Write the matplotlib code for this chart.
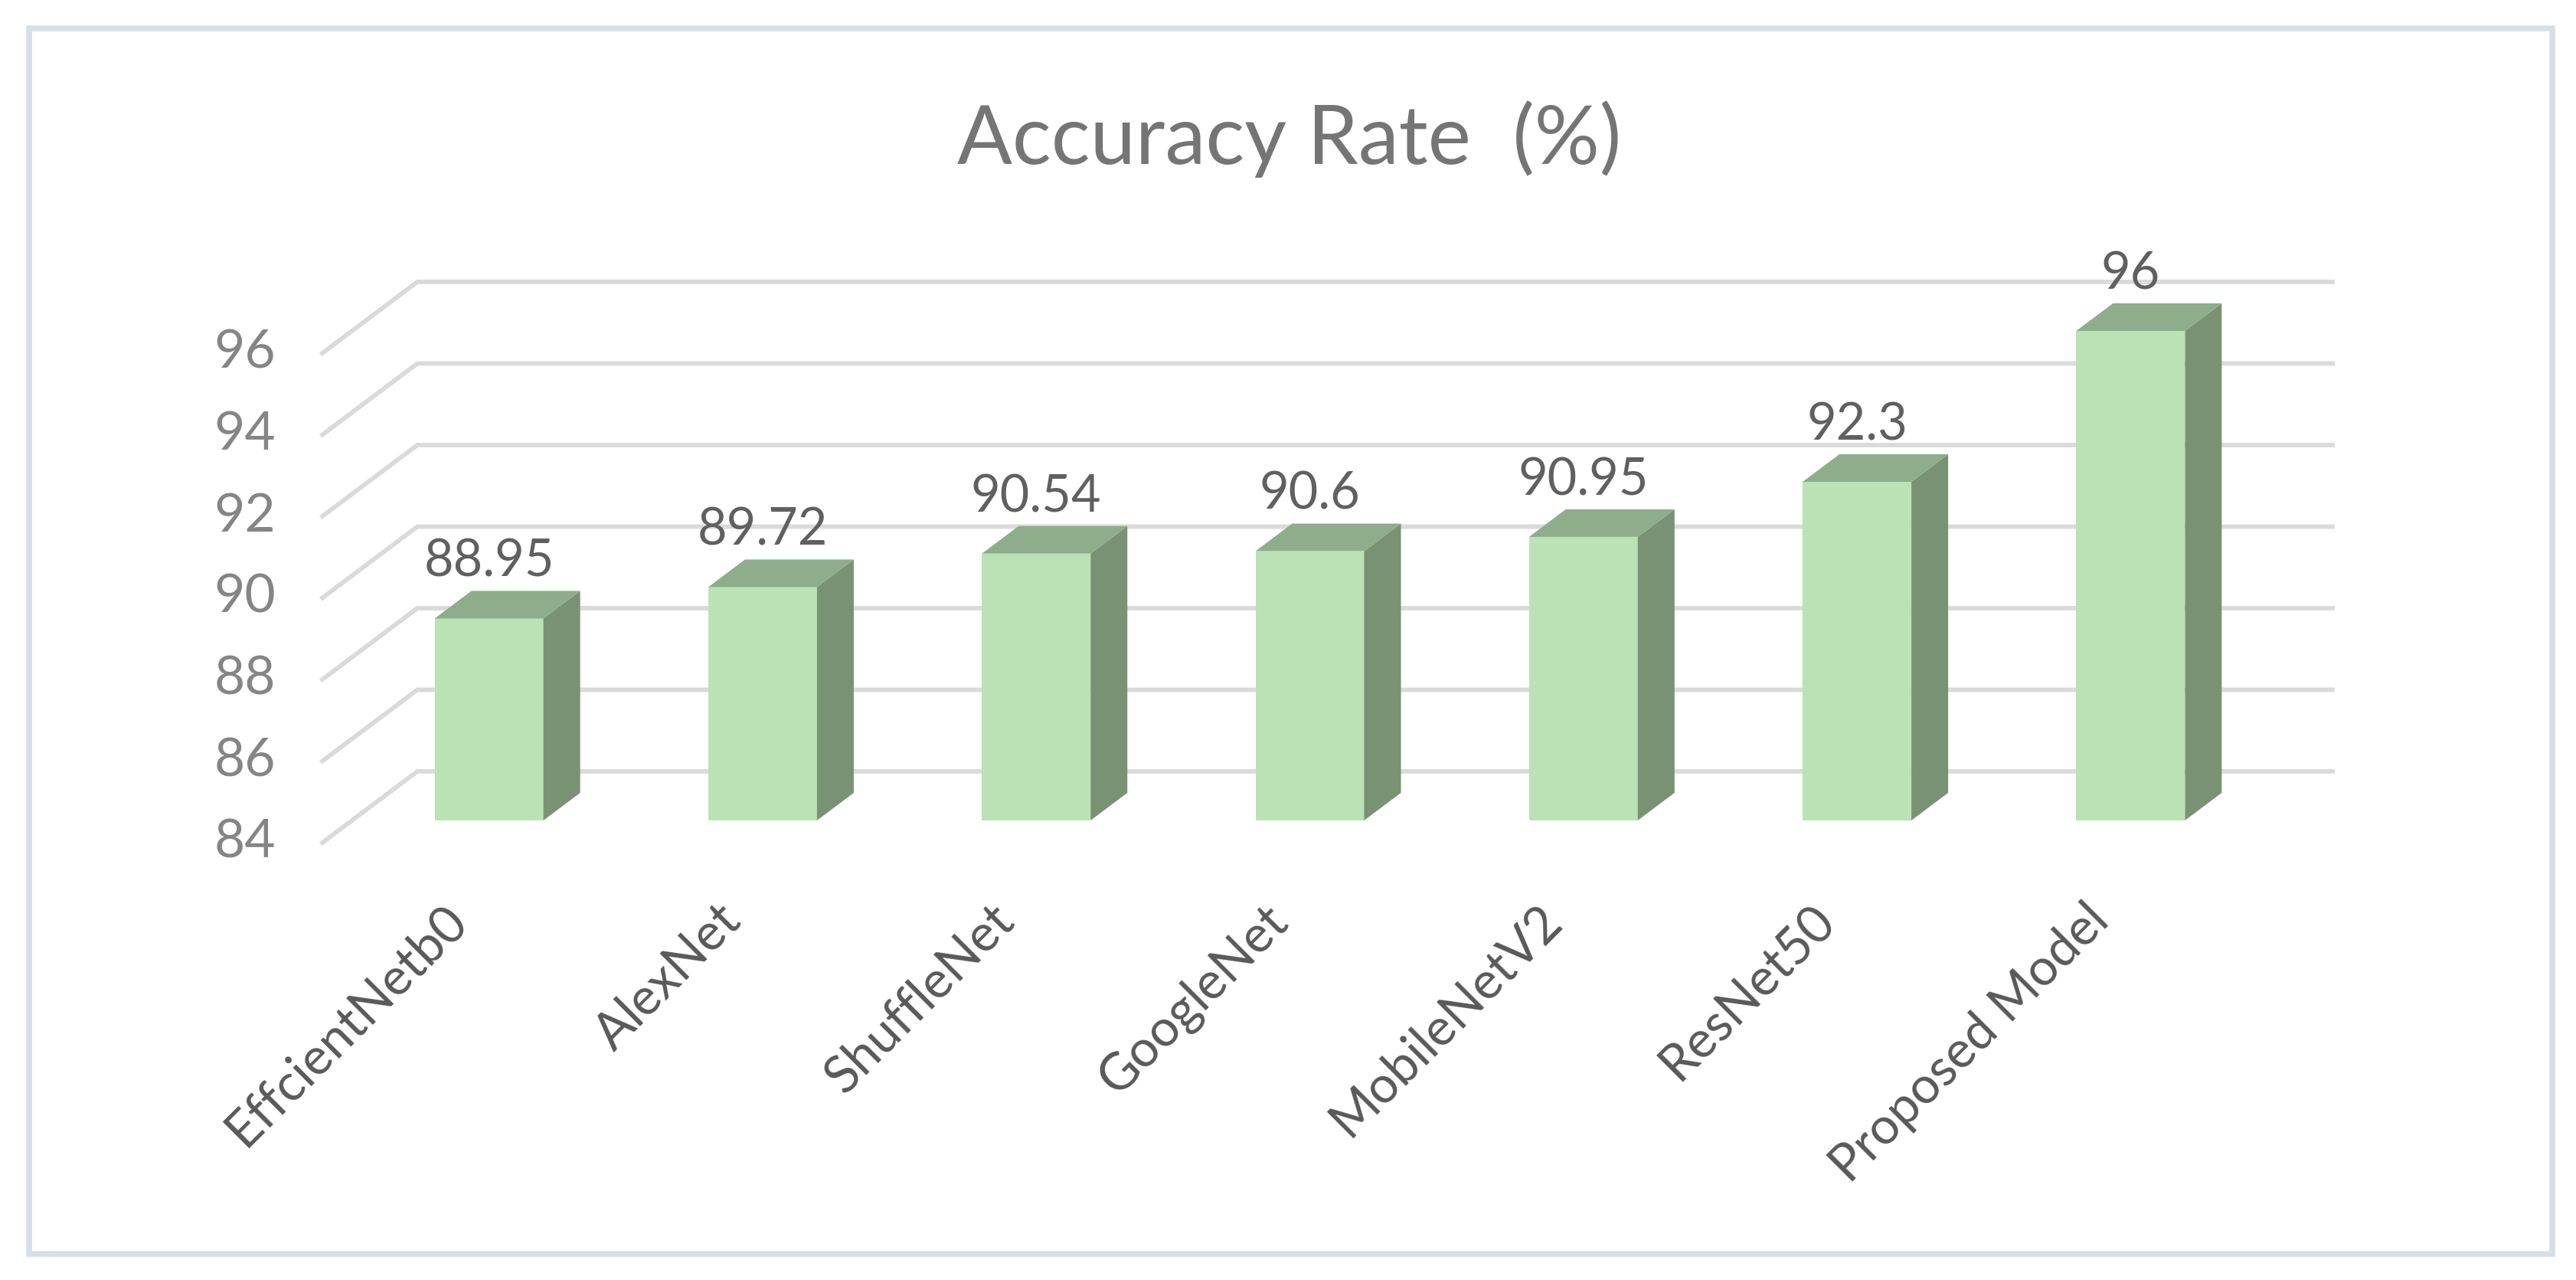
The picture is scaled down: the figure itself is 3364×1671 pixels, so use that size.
import matplotlib
matplotlib.use("Agg")
import matplotlib.pyplot as plt
import matplotlib.patches as patches
from matplotlib.transforms import ScaledTranslation

categories = ["EffcientNetb0", "AlexNet", "ShuffleNet", "GoogleNet", "MobileNetV2", "ResNet50", "Proposed Model"]
accuracy = [88.95, 89.72, 90.54, 90.6, 90.95, 92.3, 96]
y_ticks = [84, 86, 88, 90, 92, 94, 96]

W, H = 3364, 1671
BASE = 84

# axes plane is the front edge of the 3d floor, in pixels
left, right, bottom, top = 421, 2922, 1100, 461
unit_x = (right - left) / 7
unit_y = (bottom - top) / 12

# depth offsets turned into data units
wall_dx, wall_dy = 124 / unit_x, 93 / unit_y
front_dx, front_dy = 39 / unit_x, 29 / unit_y
bar_dx, bar_dy = 48 / unit_x, 36 / unit_y
bar_w = 142 / unit_x

FRONT = "#BAE2B4"
TOP = "#8DAD8B"
SIDE = "#7A9274"
GRID = "#DADADA"

plt.rcParams["font.family"] = ["Lato", "DejaVu Sans"]

fig = plt.figure(figsize=(W / 100, H / 100), dpi=100, facecolor="white")
ax = fig.add_axes([left / W, 1 - bottom / H, (right - left) / W, (bottom - top) / H])
ax.patch.set_visible(False)
for s in ax.spines.values():
    s.set_visible(False)

# frame round the whole chart
frame = patches.Rectangle((38 / W, 1 - 1637 / H), (3332.5 - 38) / W, (1637 - 36.5) / H,
                          transform=fig.transFigure, fill=False, edgecolor="#D6DEE8", linewidth=5.4)
fig.add_artist(frame)

# wall gridlines with the slanted part on the left
for v in y_ticks:
    ax.plot([-0.5, -0.5 + wall_dx, 6.5 + wall_dx], [v, v + wall_dy, v + wall_dy],
            color=GRID, linewidth=4.2, clip_on=False, zorder=1, solid_joinstyle="miter")

for i, v in enumerate(accuracy):
    x0 = i - bar_w / 2 + front_dx
    x1 = i + bar_w / 2 + front_dx
    y0 = BASE + front_dy
    y1 = v + front_dy
    ax.add_patch(patches.Rectangle((x0, y0), x1 - x0, y1 - y0, facecolor=FRONT, edgecolor="none",
                                   clip_on=False, zorder=3))
    ax.add_patch(patches.Polygon([(x1, y0), (x1, y1), (x1 + bar_dx, y1 + bar_dy), (x1 + bar_dx, y0 + bar_dy)],
                                 facecolor=SIDE, edgecolor="none", clip_on=False, zorder=3))
    ax.add_patch(patches.Polygon([(x0, y1), (x1, y1), (x1 + bar_dx, y1 + bar_dy), (x0 + bar_dx, y1 + bar_dy)],
                                 facecolor=TOP, edgecolor="none", clip_on=False, zorder=3))
    ax.annotate(f"{v:g}", (i + front_dx, y1), xytext=(0, 53), textcoords="offset points",
                ha="center", va="center", fontsize=48, color="#606060", zorder=4, annotation_clip=False)

ax.set_xlim(-0.5, 6.5)
ax.set_ylim(84, 96)

ax.set_yticks(y_ticks)
ax.tick_params(axis="y", length=0, pad=44, labelsize=50, labelcolor="#858585")
ax.set_xticks(range(len(categories)))
ax.set_xticklabels(categories, rotation=45, ha="right", va="center", rotation_mode="anchor",
                   fontsize=48, color="#595959")
ax.tick_params(axis="x", length=0, pad=66)
lift = ScaledTranslation(0, 6 / 100, fig.dpi_scale_trans)
for label in ax.get_yticklabels():
    label.set_transform(label.get_transform() + lift)

fig.text(1684 / W, 1 - 182 / H, "Accuracy Rate  (%)", ha="center", va="center", fontsize=76.5, color="#757575")

fig.savefig("out.png", dpi=100)
